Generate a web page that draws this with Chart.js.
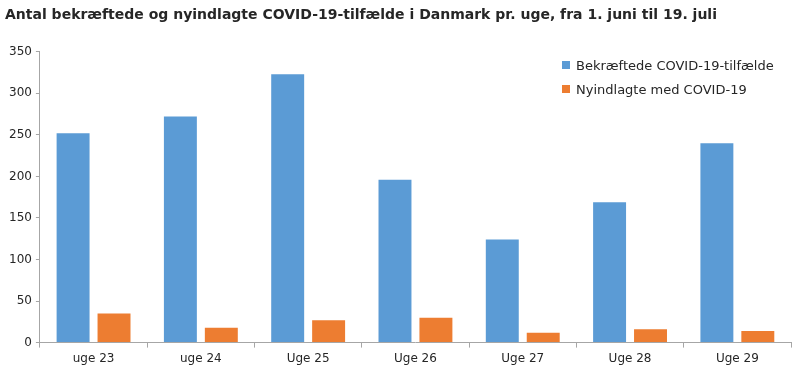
<!DOCTYPE html>
<html>
<head>
<meta charset="utf-8">
<script src="https://cdn.jsdelivr.net/npm/chart.js@4"></script>
<style>
  html, body { margin: 0; padding: 0; background: #fff; }
  #wrap { position: relative; width: 800px; height: 371px; }
  #legend { position: absolute; left: 562px; top: 57px; font: 13px "DejaVu Sans", sans-serif; color: #262626; }
  #legend div { height: 24px; line-height: 18px; white-space: nowrap; }
  #legend span { display: inline-block; width: 8px; height: 8px; margin-right: 6px; vertical-align: 1px; }
</style>
</head>
<body>
<div id="wrap">
  <canvas id="chart" width="800" height="371"></canvas>
  <div id="legend"></div>
</div>
<script>
const weeks = ['uge 23', 'uge 24', 'Uge 25', 'Uge 26', 'Uge 27', 'Uge 28', 'Uge 29'];
const confirmed = [252, 272, 323, 196, 124, 169, 240];
const hospitalized = [35, 18, 27, 30, 12, 16, 14];
const seriesNames = ['Bekræftede COVID-19-tilfælde', 'Nyindlagte med COVID-19'];
const seriesColors = ['#5b9bd5', '#ed7d31'];

document.addEventListener('DOMContentLoaded', function() {
    const ctx = document.getElementById('chart').getContext('2d');
    const axisColor = '#a6a6a6';
    const textColor = '#262626';

    new Chart(ctx, {
        type: 'bar',
        data: {
            labels: weeks,
            datasets: [{
                label: seriesNames[0],
                data: confirmed,
                backgroundColor: seriesColors[0]
            }, {
                label: seriesNames[1],
                data: hospitalized,
                backgroundColor: seriesColors[1]
            }]
        },
        options: {
            responsive: false,
            animation: false,
            barPercentage: 0.805,
            categoryPercentage: 0.763,
            layout: { padding: { left: 5, right: 9, top: 0, bottom: 1 } },
            plugins: {
                legend: { display: false },
                tooltip: { enabled: false },
                title: {
                    display: true,
                    text: 'Antal bekræftede og nyindlagte COVID-19-tilfælde i Danmark pr. uge, fra 1. juni til 19. juli',
                    align: 'start',
                    color: textColor,
                    font: { family: 'DejaVu Sans', size: 14, weight: 'bold' },
                    padding: { top: 7, bottom: 28 }
                }
            },
            scales: {
                x: {
                    grid: { display: true, drawOnChartArea: false, offset: true, color: axisColor, tickLength: 5 },
                    border: { color: axisColor },
                    ticks: { color: textColor, font: { family: 'DejaVu Sans', size: 12 }, padding: 4 }
                },
                y: {
                    min: 0,
                    max: 350,
                    ticks: { stepSize: 50, color: textColor, font: { family: 'DejaVu Sans', size: 12 }, padding: 4 },
                    grid: { display: true, drawOnChartArea: false, color: axisColor, tickLength: 4 },
                    border: { color: axisColor }
                }
            }
        }
    });

    // Legend drawn in HTML inside the plot area
    const legend = document.getElementById('legend');
    seriesNames.forEach((name, i) => {
        const row = document.createElement('div');
        row.innerHTML = `<span style="background:${seriesColors[i]}"></span>${name}`;
        legend.appendChild(row);
    });
});
</script>
</body>
</html>
